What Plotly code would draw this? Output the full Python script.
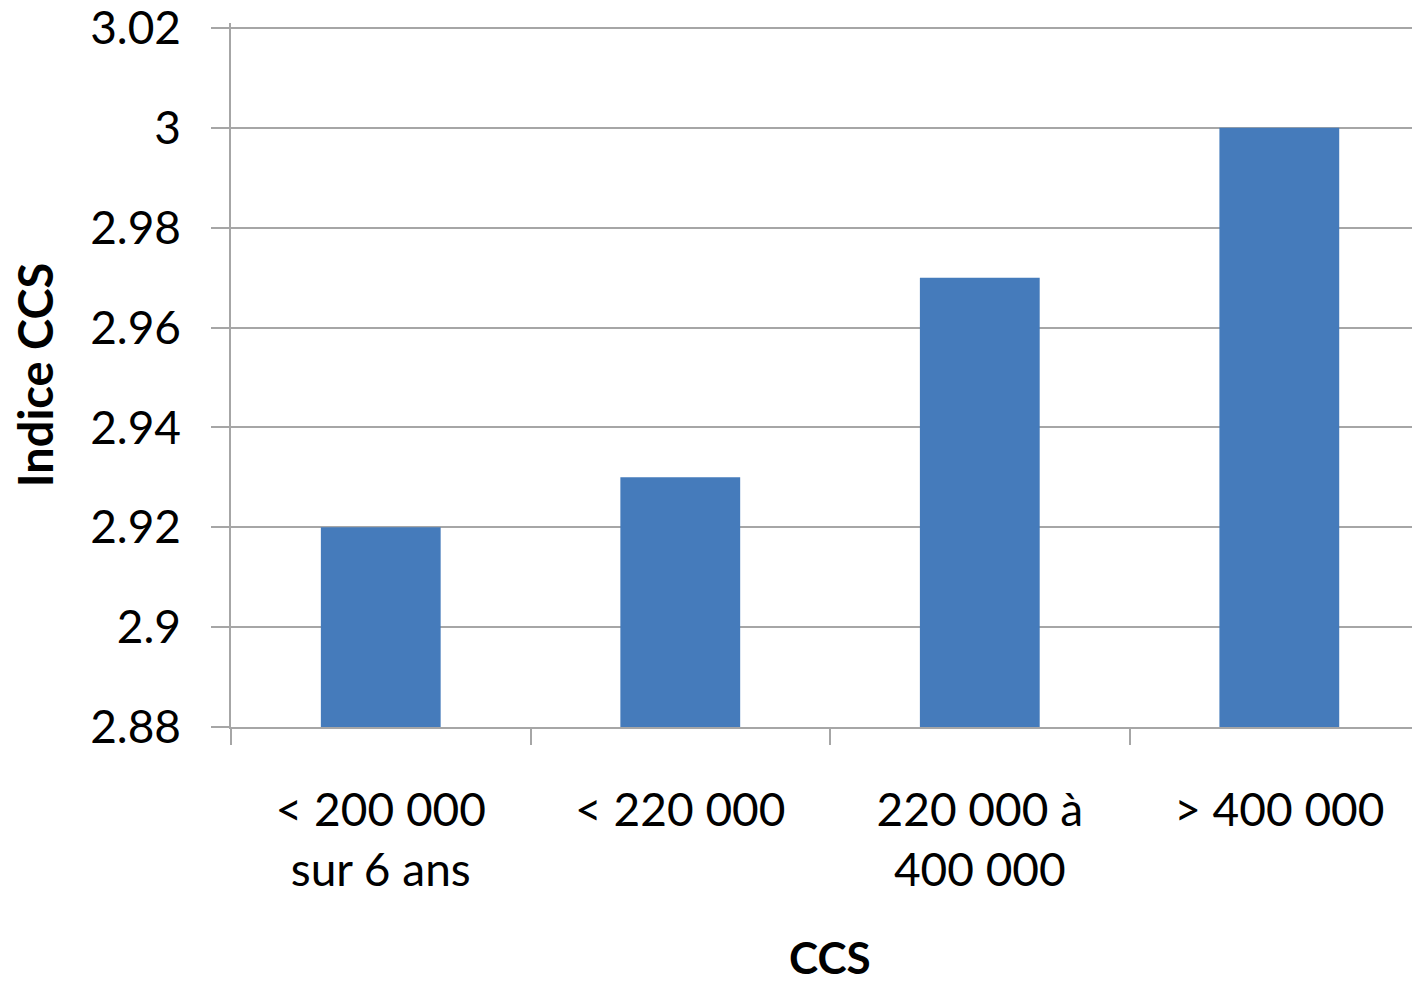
import plotly.graph_objects as go

categories = ["< 200 000<br>sur 6 ans", "< 220 000", "220 000 à<br>400 000", "> 400 000"]
values = [2.92, 2.93, 2.97, 3.00]
y_tickvals = [2.88, 2.90, 2.92, 2.94, 2.96, 2.98, 3.00, 3.02]
y_ticktext = ["2.88", "2.9", "2.92", "2.94", "2.96", "2.98", "3", "3.02"]

FONT = "Lato"
GRID = "#a6a6a6"

fig = go.Figure(
    go.Bar(x=categories, y=values, marker=dict(color="#457BBB", line=dict(width=0)), width=0.4)
)

fig.update_layout(
    width=1412, height=981,
    margin=dict(l=231, r=0, t=23, b=254, autoexpand=False),
    paper_bgcolor="white", plot_bgcolor="white",
    font=dict(family=FONT, size=46, color="black"),
    showlegend=False,
)

fig.update_yaxes(
    range=[2.88, 3.021],
    tickvals=y_tickvals, ticktext=y_ticktext,
    ticklabeloverflow="allow",
    showgrid=True, gridcolor=GRID, gridwidth=1.5,
    showline=True, linecolor=GRID, linewidth=1.5,
    ticks="outside", ticklen=18, tickcolor=GRID, tickwidth=1.5,
    ticklabelstandoff=21,
    zeroline=False, automargin=False,
    title=dict(text="<b>Indice CCS</b>", font=dict(family=FONT, size=47), standoff=22),
)

fig.update_xaxes(
    range=[-0.5, 3.443],
    tickson="boundaries",
    showgrid=False,
    showline=True, linecolor=GRID, linewidth=1.5,
    ticks="outside", ticklen=16, tickcolor=GRID, tickwidth=1.5,
    ticklabelstandoff=42, automargin=False,
)

fig.add_annotation(
    text="<b>CCS</b>", font=dict(family=FONT, size=44, color="black"),
    xref="paper", yref="paper", x=0.507, y=-0.326,
    xanchor="center", yanchor="middle", showarrow=False,
    height=36, borderpad=0,
)

fig.write_html(
    "out.html",
    config={"displayModeBar": False},
    post_script="document.body.style.margin='0';",
)
